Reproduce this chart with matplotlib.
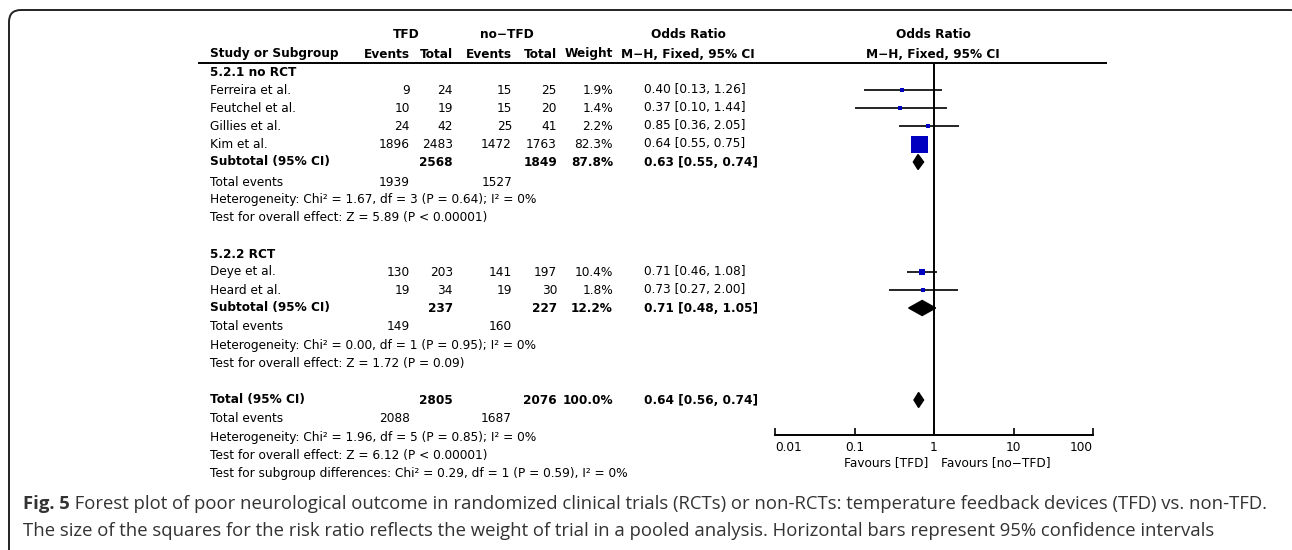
import matplotlib
matplotlib.use("Agg")
import matplotlib.pyplot as plt
from matplotlib.patches import FancyBboxPatch, Polygon
import numpy as np

# ---------------- data ----------------
studies = ["Ferreira et al.", "Feutchel et al.", "Gillies et al.", "Kim et al.",
           "Deye et al.", "Heard et al."]
tfd_events = [9, 10, 24, 1896, 130, 19]
tfd_total = [24, 19, 42, 2483, 203, 34]
ctl_events = [15, 15, 25, 1472, 141, 19]
ctl_total = [25, 20, 41, 1763, 197, 30]
weights = [1.9, 1.4, 2.2, 82.3, 10.4, 1.8]
or_est = [0.40, 0.37, 0.85, 0.64, 0.71, 0.73]
ci_low = [0.13, 0.10, 0.36, 0.55, 0.46, 0.27]
ci_high = [1.26, 1.44, 2.05, 0.75, 1.08, 2.00]

groups = ["5.2.1 no RCT", "5.2.2 RCT"]
sub_tfd_total = [2568, 237]
sub_ctl_total = [1849, 227]
sub_weight = [87.8, 12.2]
sub_or = [0.63, 0.71]
sub_low = [0.55, 0.48]
sub_high = [0.74, 1.05]
sub_tfd_events = [1939, 149]
sub_ctl_events = [1527, 160]
sub_het = ["Heterogeneity: Chi² = 1.67, df = 3 (P = 0.64); I² = 0%",
           "Heterogeneity: Chi² = 0.00, df = 1 (P = 0.95); I² = 0%"]
sub_test = ["Test for overall effect: Z = 5.89 (P < 0.00001)",
            "Test for overall effect: Z = 1.72 (P = 0.09)"]

tot_tfd_total = 2805
tot_ctl_total = 2076
tot_weight = 100.0
tot_or = 0.64
tot_low = 0.56
tot_high = 0.74
tot_tfd_events = 2088
tot_ctl_events = 1687
tot_lines = ["Heterogeneity: Chi² = 1.96, df = 5 (P = 0.85); I² = 0%",
             "Test for overall effect: Z = 6.12 (P < 0.00001)",
             "Test for subgroup differences: Chi² = 0.29, df = 1 (P = 0.59), I² = 0%"]

x_ticks = [0.01, 0.1, 1, 10, 100]
x_ticklabels = ["0.01", "0.1", "1", "10", "100"]
favours = ["Favours [TFD]", "Favours [no\u2212TFD]"]

caption_bold = "Fig. 5"
caption_1 = (" Forest plot of poor neurological outcome in randomized clinical trials (RCTs) "
             "or non-RCTs: temperature feedback devices (TFD) vs. non-TFD.")
caption_2 = ("The size of the squares for the risk ratio reflects the weight of trial in a "
             "pooled analysis. Horizontal bars represent 95% confidence intervals")

# ---------------- layout ----------------
W, H = 1292, 550
fig = plt.figure(figsize=(W / 100, H / 100), dpi=100)
ax0 = fig.add_axes([0, 0, 1, 1])
ax0.set_xlim(0, W)
ax0.set_ylim(H, 0)
ax0.axis("off")

FS = 8.7
FONT = "DejaVu Sans"

# frame
frame = FancyBboxPatch((9, 10), 1302 - 9, 600 - 10,
                       boxstyle="round,pad=0,rounding_size=12",
                       fill=False, edgecolor="#222222", linewidth=1.4)
ax0.add_patch(frame)

x_name = 210
x_c1, x_c2, x_c3, x_c4, x_w = 410, 453, 512, 557, 613
x_or_l = 644
x_or_c = 688


def T(x, y, s, ha="left", bold=False, **kw):
    ax0.text(x, y, s, ha=ha, va="center", fontsize=FS, family=FONT,
             fontweight="bold" if bold else "normal", color="black", **kw)


# headers
T(406, 35, "TFD", ha="center", bold=True)
T(507, 35, "no\u2212TFD", ha="center", bold=True)
T(x_or_c, 35, "Odds Ratio", ha="center", bold=True)
T(933, 35, "Odds Ratio", ha="center", bold=True)
T(x_name, 54, "Study or Subgroup", bold=True)
T(x_c1, 54, "Events", ha="right", bold=True)
T(x_c2, 54, "Total", ha="right", bold=True)
T(x_c3, 54, "Events", ha="right", bold=True)
T(x_c4, 54, "Total", ha="right", bold=True)
T(x_w, 54, "Weight", ha="right", bold=True)
T(x_or_c, 54, "M\u2212H, Fixed, 95% CI", ha="center", bold=True)
T(933, 54, "M\u2212H, Fixed, 95% CI", ha="center", bold=True)
ax0.plot([198, 1107], [63, 63], color="black", lw=1.4, solid_capstyle="butt")

# row positions (pixels)
group_rows = [72, 254]
study_rows = [[90, 108, 126, 144], [272, 290]]
sub_rows = [162, 308]
events_rows = [182, 327]
het_rows = [199, 345]
test_rows = [217, 363]
total_row = 400
tot_rows = [419, 437, 455, 473]

# forest axes : x 0.01 -> 775 px, 100 -> 1093 px ; y pixels 63 -> 435
y_top, y_bot = 63, 435
axf = fig.add_axes([775 / W, 1 - y_bot / H, (1093 - 775) / W, (y_bot - y_top) / H])
axf.set_xscale("log")
axf.set_xlim(0.01, 100)
axf.set_ylim(y_bot, y_top)
axf.patch.set_alpha(0)
for s in ["top", "left", "right"]:
    axf.spines[s].set_visible(False)
axf.spines["bottom"].set_linewidth(1.4)
axf.set_yticks([])
axf.set_xticks(x_ticks)
axf.xaxis.set_minor_locator(matplotlib.ticker.NullLocator())
axf.set_xticklabels(x_ticklabels, fontsize=FS, family=FONT)
axf.tick_params(axis="x", direction="in", length=5, width=1.2, pad=4)
labs = axf.get_xticklabels()
labs[0].set_ha("left")
labs[-1].set_ha("right")
axf.axvline(1, color="black", lw=1.4)

idx = 0
for g in range(2):
    T(x_name, group_rows[g], groups[g], bold=True)
    n = len(study_rows[g])
    for k in range(n):
        i = idx + k
        y = study_rows[g][k]
        T(x_name, y, studies[i])
        T(x_c1, y, str(tfd_events[i]), ha="right")
        T(x_c2, y, str(tfd_total[i]), ha="right")
        T(x_c3, y, str(ctl_events[i]), ha="right")
        T(x_c4, y, str(ctl_total[i]), ha="right")
        T(x_w, y, f"{weights[i]:.1f}%", ha="right")
        T(x_or_l, y, f"{or_est[i]:.2f} [{ci_low[i]:.2f}, {ci_high[i]:.2f}]")
        axf.plot([ci_low[i], ci_high[i]], [y, y], color="black", lw=1.2,
                 solid_capstyle="butt", zorder=2)
        side = max(3.3, 17 * np.sqrt(weights[i] / 82.3))
        axf.plot([or_est[i]], [y], marker="s", markersize=side * 0.72,
                 color="#0000C0", markeredgewidth=0, zorder=3)
    idx += n
    ys = sub_rows[g]
    T(x_name, ys, "Subtotal (95% CI)", bold=True)
    T(x_c2, ys, str(sub_tfd_total[g]), ha="right", bold=True)
    T(x_c4, ys, str(sub_ctl_total[g]), ha="right", bold=True)
    T(x_w, ys, f"{sub_weight[g]:.1f}%", ha="right", bold=True)
    T(x_or_l, ys, f"{sub_or[g]:.2f} [{sub_low[g]:.2f}, {sub_high[g]:.2f}]", bold=True)
    hh = 7.5
    axf.add_patch(Polygon([[sub_low[g], ys], [sub_or[g], ys - hh],
                           [sub_high[g], ys], [sub_or[g], ys + hh]],
                          closed=True, color="black", zorder=3))
    T(x_name, events_rows[g], "Total events")
    T(x_c1, events_rows[g], str(sub_tfd_events[g]), ha="right")
    T(x_c3, events_rows[g], str(sub_ctl_events[g]), ha="right")
    T(x_name, het_rows[g], sub_het[g])
    T(x_name, test_rows[g], sub_test[g])

# overall
T(x_name, total_row, "Total (95% CI)", bold=True)
T(x_c2, total_row, str(tot_tfd_total), ha="right", bold=True)
T(x_c4, total_row, str(tot_ctl_total), ha="right", bold=True)
T(x_w, total_row, f"{tot_weight:.1f}%", ha="right", bold=True)
T(x_or_l, total_row, f"{tot_or:.2f} [{tot_low:.2f}, {tot_high:.2f}]", bold=True)
axf.add_patch(Polygon([[tot_low, total_row], [tot_or, total_row - 7.5],
                       [tot_high, total_row], [tot_or, total_row + 7.5]],
                      closed=True, color="black", zorder=3))
T(x_name, tot_rows[0], "Total events")
T(x_c1, tot_rows[0], str(tot_tfd_events), ha="right")
T(x_c3, tot_rows[0], str(tot_ctl_events), ha="right")
for k, s in enumerate(tot_lines):
    T(x_name, tot_rows[k + 1], s)

T(928, 463, favours[0], ha="right")
T(941, 463, favours[1], ha="left")

# caption
CFS = 13.3
CCOL = "#333333"
CFONT = "Open Sans"
tb = ax0.text(23, 504, caption_bold, ha="left", va="center", fontsize=CFS,
              family=CFONT, fontweight="bold", color=CCOL)
fig.canvas.draw()
bb = tb.get_window_extent()
ax0.text(bb.x1, 504, caption_1, ha="left", va="center", fontsize=CFS,
         family=CFONT, color=CCOL)
ax0.text(23, 531, caption_2, ha="left", va="center", fontsize=CFS,
         family=CFONT, color=CCOL)

fig.savefig("out.png", dpi=100)
